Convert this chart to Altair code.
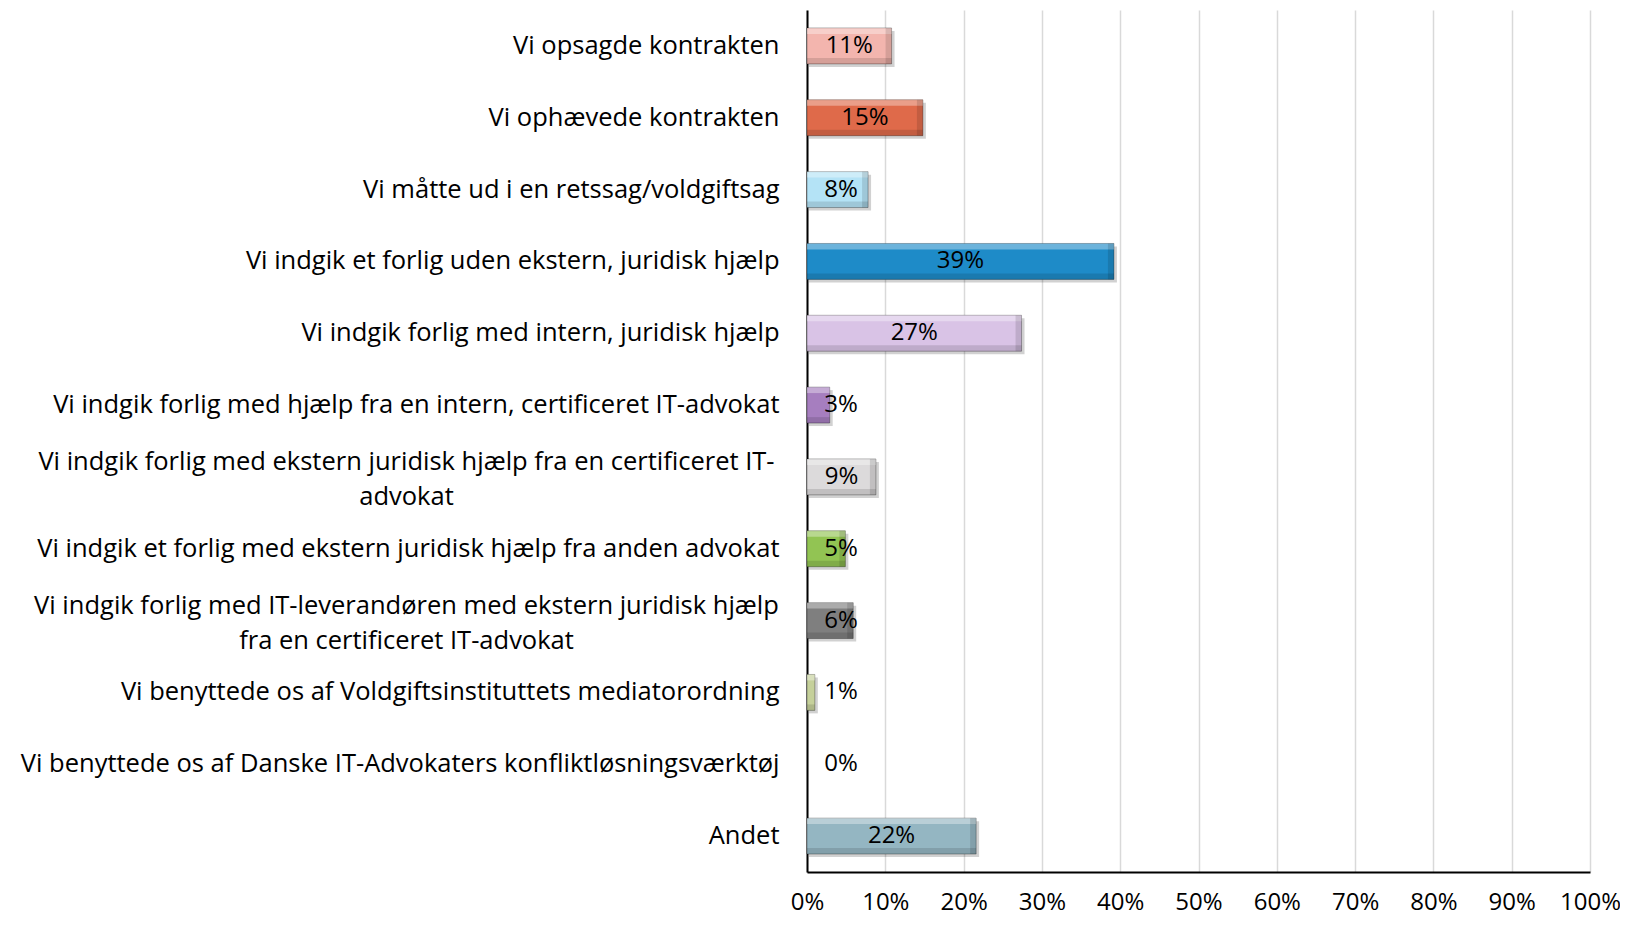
import altair as alt
import pandas as pd

categories = [
    "Vi opsagde kontrakten",
    "Vi ophævede kontrakten",
    "Vi måtte ud i en retssag/voldgiftsag",
    "Vi indgik et forlig uden ekstern, juridisk hjælp",
    "Vi indgik forlig med intern, juridisk hjælp",
    "Vi indgik forlig med hjælp fra en intern, certificeret IT-advokat",
    "Vi indgik forlig med ekstern juridisk hjælp fra en certificeret IT-|advokat",
    "Vi indgik et forlig med ekstern juridisk hjælp fra anden advokat",
    "Vi indgik forlig med IT-leverandøren med ekstern juridisk hjælp|fra en certificeret IT-advokat",
    "Vi benyttede os af Voldgiftsinstituttets mediatorordning",
    "Vi benyttede os af Danske IT-Advokaters konfliktløsningsværktøj",
    "Andet",
]
values = [10.8, 14.8, 7.8, 39.2, 27.4, 2.9, 8.8, 4.9, 5.9, 1.0, 0.0, 21.6]
colors = ["#F3B5AE", "#DF6A4A", "#B4E3F6", "#1E8BC8", "#D9C3E6", "#A67EBF",
          "#DCDADB", "#92C453", "#7F7F7F", "#C5D09A", "#B0B0B0", "#94B6C2"]
x_ticks = [0, 10, 20, 30, 40, 50, 60, 70, 80, 90, 100]

df = pd.DataFrame({"cat": categories, "value": values, "color": colors})
df["label"] = df["value"].map(lambda v: f"{v:.0f}%")
df["label_x"] = df["value"].map(lambda v: max(v / 2, 4.35))
df["zero"] = 0.0

FONT = "Open Sans"
wrapped = "indexof(datum.value, '|') >= 0"

y_scale = alt.Scale(paddingInner=0.5, paddingOuter=0.25)
x_scale = alt.Scale(domain=[0, 100], nice=False)

y_axis = alt.Axis(
    title=None, domain=True, domainColor="black", domainWidth=2, ticks=False,
    labelFont=FONT, labelFontSize=25.5, labelColor="black", labelLimit=900,
    labelExpr="split(datum.label, '|')", labelLineHeight=35,
    labelAlign={"condition": {"test": wrapped, "value": "center"}, "value": "right"},
    labelPadding={"condition": {"test": wrapped, "value": 401}, "value": 28},
    labelOffset={"condition": {"test": wrapped, "value": -15}, "value": 0},
    labelBaseline="middle", labelOverlap=False, grid=False,
)
x_axis = alt.Axis(
    title=None, values=x_ticks, labelExpr="datum.value + '%'",
    domain=True, domainColor="black", domainWidth=2, ticks=False,
    labelFont=FONT, labelFontSize=24, labelColor="black", labelPadding=18,
    labelOverlap=False, labelFlush=False, labelBound=False,
    grid=True, gridColor="#D9D9D9", gridWidth=1.5,
)

Y = alt.Y("cat:N", sort=categories, scale=y_scale, axis=y_axis)


def X(field):
    return alt.X(field, type="quantitative", scale=x_scale, axis=x_axis)


base = alt.Chart(df)
pos = base.transform_filter("datum.value > 0")

shadow = pos.mark_bar(
    color="black", opacity=0.18, xOffset=2, x2Offset=3, yOffset=3, y2Offset=3
).encode(y=Y, x=X("zero"), x2="value:Q")

bars = pos.mark_bar(stroke="black", strokeOpacity=0.3, strokeWidth=1).encode(
    y=Y, x=X("zero"), x2="value:Q",
    color=alt.Color("color:N", scale=None, legend=None),
)

top_hl = pos.mark_bar(height=6, yOffset=-15, color="white", opacity=0.35).encode(
    y=Y, x=X("zero"), x2="value:Q"
)

bot_sh = pos.mark_bar(height=6, yOffset=15, color="black", opacity=0.12).encode(
    y=Y, x=X("zero"), x2="value:Q"
)

right_sh = base.transform_filter("datum.value > 3").mark_bar(
    color="black", opacity=0.12, xOffset=-6
).encode(y=Y, x=X("value"), x2="value:Q")

text = base.mark_text(
    font=FONT, fontSize=24, color="black", align="center", baseline="middle"
).encode(y=Y, x=X("label_x"), text="label:N")

chart = alt.layer(shadow, bars, top_hl, bot_sh, right_sh, text).properties(
    width=783, height=862,
    padding={"left": 799, "top": 2, "right": 30, "bottom": 46},
    autosize=alt.AutoSizeParams(type="none"),
    background="white",
).configure_view(stroke=None)

chart.save("out.html", embed_options={"renderer": "svg", "actions": False})
